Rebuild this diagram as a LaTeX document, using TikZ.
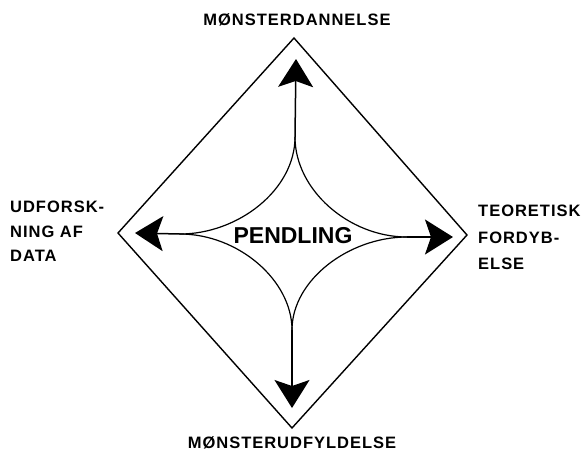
\documentclass[tikz,border=0pt]{standalone}
\usepackage{fontspec}
\setmainfont{Liberation Sans}
\newfontfamily\lblfont{Liberation Sans}[LetterSpace=6.0]
\usetikzlibrary{arrows.meta}
\begin{document}
\begin{tikzpicture}[x=1pt,y=-1pt,
  frame/.style={line width=1.4pt, line join=miter},
  shaft/.style={line width=1.5pt, -{Stealth[length=28pt,width=35pt,inset=6pt]}},
  curve/.style={line width=1.2pt},
  lbl/.style={font=\lblfont\bfseries\fontsize{16.5}{19}\selectfont, inner sep=0pt},
  side/.style={lbl, anchor=base west},
  center/.style={font=\bfseries\fontsize{23}{26}\selectfont, inner sep=0pt}]
\useasboundingbox (0,0) rectangle (582,451);
% diamond
\coordinate (T) at (294,38);
\coordinate (Rv) at (467,235);
\coordinate (B) at (292,428);
\coordinate (Lv) at (118,233);
\draw[frame] (T) -- (Rv) -- (B) -- (Lv) -- cycle;
% arrow tips and split points
\coordinate (ut) at (296,59);
\coordinate (dt) at (292,408);
\coordinate (lt) at (135,233);
\coordinate (rt) at (453,237);
\coordinate (us) at (295,137);
\coordinate (ds) at (292,330);
\coordinate (ls) at (180,234);
\coordinate (rs) at (407,237);
\draw[shaft] (us) -- (ut);
\draw[shaft] (ds) -- (dt);
\draw[shaft] (ls) -- (lt);
\draw[shaft] (rs) -- (rt);
\draw[curve] (us) .. controls (295,190) and (238,234) .. (ls);
\draw[curve] (us) .. controls (295,190) and (349,237) .. (rs);
\draw[curve] (ds) .. controls (292,280) and (238,234) .. (ls);
\draw[curve] (ds) .. controls (292,280) and (349,237) .. (rs);
% labels
\node[center] (pend) at (293,236) {PENDLING};
\node[lbl, anchor=base] (top) at (297,25) {MØNSTERDANNELSE};
\node[lbl, anchor=base] (bot) at (292,448) {MØNSTERUDFYLDELSE};
\node[side] (l1) at (10,212) {UDFORSK-};
\node[side] (l2) at (10,237) {NING AF};
\node[side] (l3) at (10,261) {DATA};
\node[side] (r1) at (478,216) {TEORETISK};
\node[side] (r2) at (478,243) {FORDYB-};
\node[side] (r3) at (478,269) {ELSE};
\end{tikzpicture}
\end{document}
